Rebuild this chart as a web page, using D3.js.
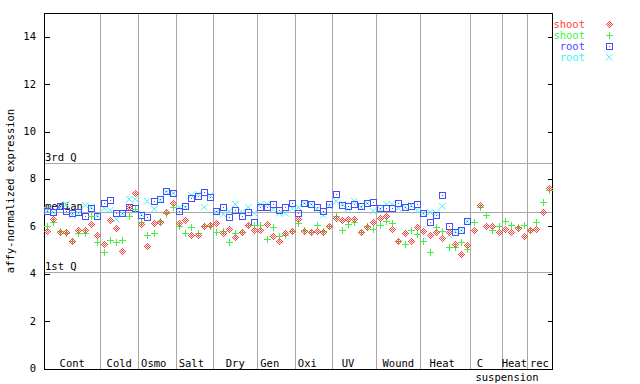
<!DOCTYPE html>
<html>
<head>
<meta charset="utf-8">
<script src="https://cdnjs.cloudflare.com/ajax/libs/d3/7.8.5/d3.min.js"></script>
<style>
  html, body { margin: 0; padding: 0; background: #fff; }
  svg text { font-family: "DejaVu Sans Mono", monospace; font-size: 10.5px; white-space: pre; }
</style>
</head>
<body>
<svg id="chart" width="640" height="384"></svg>
<script>
// ---------- data ----------
const groupNames  = ["Cont", "Cold", "Osmo ", "Salt ", "Dry", "Gen  ", "Oxi  ", "UV  ", "Wound", "Heat ", "C  ", "Heat", "rec"];
const groupSub    = ["", "", "", "", "", "", "", "", "", "", "suspension", "", ""];
const groupCounts = [9, 6, 6, 6, 7, 6, 6, 7, 7, 8, 5, 4, 4];

const yTicks = [0, 2, 4, 6, 8, 10, 12, 14];
const quartileNames  = ["3rd Q", "median", "1st Q"];
const quartileValues = [8.68, 6.62, 4.07];

const seriesNames = ["shoot", "shoot", "root", "root"];

const shootRep1 = [
  5.82, 6.31, 5.76, 5.74, 5.36, 5.86, 5.86, 6.10, 5.63,
  5.25, 6.28, 5.93, 4.94, 6.82, 7.42,
  6.11, 5.17, 6.14, 6.18, 6.61, 6.99,
  6.12, 6.28, 5.65, 5.65, 6.00, 6.05,
  6.14, 5.72, 5.89, 5.55, 5.74, 6.07, 5.83,
  5.86, 6.11, 5.58, 5.39, 5.72, 5.82,
  6.32, 5.79, 5.76, 5.79, 5.76, 6.00,
  6.35, 6.28, 6.31, 6.31, 5.76, 5.97, 6.18,
  6.35, 6.42, 5.89, 5.40, 5.72, 5.39, 5.97,
  5.82, 5.65, 5.76, 5.51, 5.76, 5.27, 4.83, 5.22,
  5.83, 6.89, 6.03, 6.00, 5.76,
  5.89, 5.76, 5.93, 5.60,
  5.86, 5.89, 6.61, 7.62
];
const shootRep2 = [
  6.02, 6.20, 5.80, 5.70, 5.38, 5.70, 5.70, 6.42, 5.33,
  4.92, 5.44, 5.35, 5.44, 6.44, 6.75,
  6.20, 5.63, 5.72, 6.22, 6.56, 6.80,
  6.02, 5.72, 5.96, 5.72, 6.03, 6.02,
  5.76, 5.82, 5.34, 5.72, 5.74, 6.07, 6.07,
  6.07, 5.48, 5.97, 5.60, 5.65, 5.79,
  6.14, 5.86, 5.76, 6.07, 5.82, 6.03,
  6.42, 5.86, 6.11, 6.17, 5.76, 6.03, 5.89,
  6.07, 6.21, 6.14, 5.39, 5.27, 5.83, 5.68,
  5.36, 4.92, 5.97, 5.79, 5.13, 5.13, 5.34, 5.05,
  6.17, 6.82, 6.49, 5.86, 6.03,
  6.24, 6.07, 5.97, 6.07,
  5.86, 6.17, 7.03, 7.52
];
const rootRep1 = [
  6.65, 6.62, 6.86, 6.66, 6.58, 6.62, 6.44, 6.76, 6.44,
  7.00, 7.09, 6.55, 6.55, 6.80, 6.78,
  6.48, 6.40, 7.07, 7.16, 7.50, 7.42,
  6.64, 6.84, 7.20, 7.29, 7.43, 7.22,
  6.66, 6.82, 6.40, 6.70, 6.45, 6.61, 6.18,
  6.82, 6.82, 6.92, 6.70, 6.82, 6.99,
  6.56, 6.99, 6.95, 6.82, 6.63, 6.92,
  7.38, 6.89, 6.87, 6.92, 6.85, 6.99, 7.03,
  6.78, 6.78, 6.78, 6.99, 6.82, 6.85, 6.92,
  6.56, 6.18, 6.49, 7.30, 6.00, 5.76, 5.83, 6.21,
  null, null, null, null, null,
  null, null, null, null,
  null, null, null, null
];
const rootRep2 = [
  6.70, 6.60, 6.80, 6.92, 6.48, 6.56, 6.88, 6.80, 6.48,
  6.78, 6.69, 6.31, 6.55, 7.14, 7.14,
  6.50, 7.08, 6.74, 7.10, 7.44, 7.42,
  6.80, 6.82, 7.31, 7.38, 6.82, 7.30,
  6.59, 6.54, 6.66, 6.95, 6.59, 6.82, 6.56,
  6.96, 6.96, 6.73, 6.56, 6.56, 6.78,
  6.82, 6.99, 6.92, 6.73, 6.46, 6.85,
  7.06, 6.95, 6.73, 7.06, 6.80, 6.99, 6.63,
  6.75, 6.92, 6.95, 6.78, 6.82, 6.88, 6.70,
  6.56, 6.61, 6.55, 6.87, 5.65, 5.82, 5.85, 6.21,
  null, null, null, null, null,
  null, null, null, null,
  null, null, null, null
];

// ---------- layout ----------
const svg = d3.select("#chart");
const L = 44, R = 552, T = 13, B = 369;
const nSamples = d3.sum(groupCounts);
const x = d3.scaleLinear().domain([0, nSamples]).range([L, R]);
const y = d3.scaleLinear().domain([0, 15]).range([368.5, T]);

const colors = ["#ff4040", "#44f044", "#4a4aff", "#44f4f4"];

// group boundaries
const bounds = [0];
groupCounts.forEach(c => bounds.push(bounds[bounds.length - 1] + c));

// grid lines (vertical separators)
svg.append("g").selectAll("line").data(bounds.slice(1, -1)).join("line")
  .attr("x1", d => Math.round(x(d)) + 0.5).attr("x2", d => Math.round(x(d)) + 0.5)
  .attr("y1", T).attr("y2", B)
  .attr("stroke", "#a8a8a8").attr("stroke-width", 1).attr("shape-rendering", "crispEdges");

// quartile lines
svg.append("g").selectAll("line").data(quartileValues).join("line")
  .attr("x1", L).attr("x2", R)
  .attr("y1", d => Math.round(y(d)) + 0.5).attr("y2", d => Math.round(y(d)) + 0.5)
  .attr("stroke", "#a8a8a8").attr("stroke-width", 1).attr("shape-rendering", "crispEdges");
svg.append("g").selectAll("text").data(quartileNames).join("text")
  .attr("x", L + 1).attr("y", (d, i) => Math.round(y(quartileValues[i])) - 2)
  .attr("fill", "#000").text(d => d);

// frame
svg.append("rect").attr("x", L + 0.5).attr("y", T + 0.5).attr("width", R - L).attr("height", B - T - 0.5)
  .attr("fill", "none").attr("stroke", "#000").attr("stroke-width", 1).attr("shape-rendering", "crispEdges");

// y axis ticks (inward, both sides)
const yAxisL = d3.axisRight(y).tickValues(yTicks).tickSize(5).tickFormat("");
const gL = svg.append("g").attr("transform", `translate(${L + 0.5},0)`).call(yAxisL);
gL.select(".domain").remove();
gL.selectAll("line").attr("stroke", "#000").attr("shape-rendering", "crispEdges");
const yAxisR = d3.axisLeft(y).tickValues(yTicks).tickSize(5).tickFormat("");
const gR = svg.append("g").attr("transform", `translate(${R + 0.5},0)`).call(yAxisR);
gR.select(".domain").remove();
gR.selectAll("line").attr("stroke", "#000").attr("shape-rendering", "crispEdges");
svg.append("g").selectAll("text").data(yTicks).join("text")
  .attr("x", 36).attr("y", d => y(d) + 3.5).attr("text-anchor", "end")
  .attr("fill", "#000").text(d => d);

// axis title
svg.append("text").attr("transform", "translate(14,191) rotate(-90)")
  .attr("text-anchor", "middle").attr("fill", "#000").text("affy-normalized expression");

// group labels
svg.append("g").selectAll("text").data(groupNames).join("text")
  .attr("x", (d, i) => x((bounds[i] + bounds[i + 1]) / 2))
  .attr("y", 367).attr("text-anchor", "middle").attr("xml:space", "preserve")
  .attr("fill", "#000").text(d => d);
svg.append("g").selectAll("text").data(groupSub).join("text")
  .attr("x", (d, i) => x(bounds[i]) + 5)
  .attr("y", 381).attr("text-anchor", "start")
  .attr("fill", "#000").text(d => d);

// ---------- markers ----------
const diamondCells = [];
for (let dx = -3; dx <= 3; dx++) for (let dy = -3; dy <= 3; dy++)
  if (Math.abs(dx) + Math.abs(dy) <= 3 && ((dx + dy) % 2 !== 0)) diamondCells.push([dx, dy]);

function drawMarker(g, s) {
  if (s === 0) {
    g.selectAll("rect").data(diamondCells).join("rect")
      .attr("x", d => d[0]).attr("y", d => d[1]).attr("width", 1).attr("height", 1)
      .attr("fill", colors[0]).attr("shape-rendering", "crispEdges");
  } else if (s === 1) {
    g.append("path").attr("d", "M-3,0.5H4M0.5,-3V4")
      .attr("stroke", colors[1]).attr("stroke-width", 1).attr("fill", "none").attr("shape-rendering", "crispEdges");
  } else if (s === 2) {
    g.append("rect").attr("x", -2.5).attr("y", -2.5).attr("width", 6).attr("height", 6)
      .attr("fill", "none").attr("stroke", colors[2]).attr("stroke-width", 1.4).attr("shape-rendering", "crispEdges");
    g.append("rect").attr("x", 0).attr("y", 0).attr("width", 1).attr("height", 1).attr("fill", colors[2]);
  } else {
    g.append("path").attr("d", "M-3,-3L3.5,3.5M-3,3.5L3.5,-3")
      .attr("stroke", colors[3]).attr("stroke-width", 1).attr("fill", "none");
  }
}

const allSeries = [shootRep1, shootRep2, rootRep1, rootRep2];
[3, 2, 1, 0].forEach(s => {
  const pts = allSeries[s].map((v, i) => ({ i, v })).filter(d => d.v !== null);
  svg.append("g").selectAll("g").data(pts).join("g")
    .attr("transform", d => `translate(${Math.round(x(d.i + 0.5))},${Math.round(y(d.v))})`)
    .each(function () { drawMarker(d3.select(this), s); });
});

// ---------- legend ----------
const leg = svg.append("g");
seriesNames.forEach((name, s) => {
  const cy = 24 + s * 11;
  leg.append("text").attr("x", 585).attr("y", cy + 3.5).attr("text-anchor", "end")
    .attr("fill", colors[s]).text(name);
  const g = leg.append("g").attr("transform", `translate(609,${cy})`);
  drawMarker(g, s);
});
</script>
</body>
</html>
